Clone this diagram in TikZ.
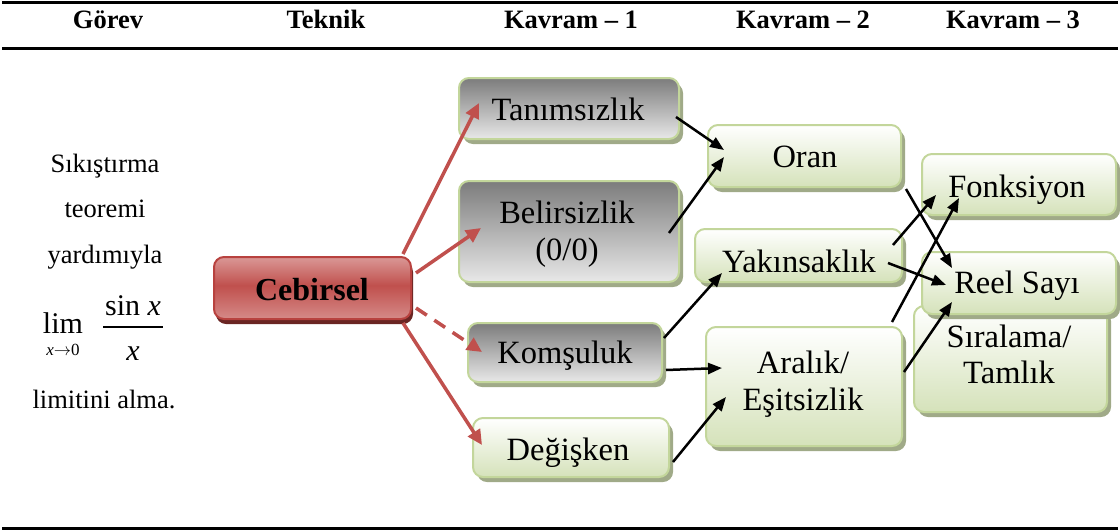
\documentclass[tikz,border=0pt]{standalone}
\usepackage{fontspec}
\setmainfont{Liberation Serif}
\usetikzlibrary{arrows.meta,calc,shadows}
\definecolor{bord}{HTML}{C3D69B}
\definecolor{shad}{HTML}{A0AA88}
\definecolor{redc}{HTML}{C0504D}
\definecolor{redb}{HTML}{B8423F}
\definecolor{redlt}{HTML}{DA9896}
\definecolor{redlb}{HTML}{D58A88}
\definecolor{redshad}{HTML}{6A2523}
\definecolor{grayT}{HTML}{7C7C7C}
\definecolor{grayB}{HTML}{E8E8E8}
\definecolor{greenB}{HTML}{D5E2BA}
\pgfdeclareverticalshading{redgloss}{100bp}{color(0bp)=(redlb); color(25bp)=(redlb); color(52bp)=(redc); color(75bp)=(redlt); color(100bp)=(redlt)}
\tikzset{
  box/.style={draw=bord, line width=2pt, rounded corners=10pt, inner sep=0pt,
    drop shadow={shadow xshift=4pt, shadow yshift=-5pt, fill=shad, opacity=1}},
  graybox/.style={box, top color=grayT, bottom color=grayB},
  greenbox/.style={box, top color=white, bottom color=greenB},
  redbox/.style={draw=redb, line width=2pt, rounded corners=10pt, inner sep=0pt, shading=redgloss,
    drop shadow={shadow xshift=2pt, shadow yshift=-5pt, fill=redshad, opacity=1}},
  lbl/.style={anchor=base, inner sep=0pt, font=\fontsize{32.5}{38}\selectfont},
  hdr/.style={anchor=base, inner sep=0pt, font=\fontsize{26.5}{30}\selectfont\bfseries},
  lft/.style={anchor=base, inner sep=0pt, font=\fontsize{26.5}{30}\selectfont},
  mth/.style={anchor=base, inner sep=0pt, font=\fontsize{30}{34}\selectfont},
  redarr/.style={draw=redc, line width=3.5pt, -{Triangle[length=15pt,width=14pt]}},
  blkarr/.style={draw=black, line width=2.5pt, -{Triangle[length=14pt,width=11pt]}},
  rule/.style={line width=3pt}
}
\begin{document}
\begin{tikzpicture}[x=1pt,y=-1pt]
\useasboundingbox (0,0) rectangle (1120,531);
% rules
\draw[rule] (2,2.5) -- (1118,2.5);
\draw[rule] (2,48.5) -- (1118,48.5);
\draw[line width=2.5pt] (2,528.5) -- (1118,528.5);
% header
\node[hdr] (h1) at (108,28) {Görev};
\node[hdr] (h2) at (326,28) {Teknik};
\node[hdr] (h3) at (571,28) {Kavram – 1};
\node[hdr] (h4) at (803,28) {Kavram – 2};
\node[hdr] (h5) at (1013,28) {Kavram – 3};
% left text
\node[lft] (l1) at (105,172) {Sıkıştırma};
\node[lft] (l2) at (105,217) {teoremi};
\node[lft] (l3) at (105,263) {yardımıyla};
\node[mth] (lim) at (63,333) {lim};
\node[anchor=base, inner sep=0pt, font=\fontsize{17}{19}\selectfont] (lsub) at (63,355) {\textit{x}$\rightarrow$0};
\node[mth] (num) at (133,315) {sin \textit{x}};
\node[mth] (den) at (133,360) {\textit{x}};
\draw[line width=1.4pt] ($(num.base)+(-30,12)$) -- ($(num.base)+(30,12)$);
\node[lft] (l5) at (104,408) {limitini alma.};
% Cebirsel
\node[redbox, minimum width=197pt, minimum height=62pt] (ceb) at (312.5,288) {};
\node[anchor=base, inner sep=0pt, font=\fontsize{32}{38}\selectfont\bfseries] (cebt) at (312,300) {Cebirsel};
% Kavram 1
\node[graybox, minimum width=220pt, minimum height=61pt] (tan) at (569,108.5) {};
\node[lbl] (tant) at (568,120) {Tanımsızlık};
\node[graybox, minimum width=220pt, minimum height=101pt] (bel) at (569,231.5) {};
\node[lbl] (belt1) at (567,223) {Belirsizlik};
\node[lbl] (belt2) at (567,260) {(0/0)};
\node[graybox, minimum width=194pt, minimum height=59pt] (kom) at (565,352.5) {};
\node[lbl] (komt) at (565,363) {Komşuluk};
\node[greenbox, minimum width=196pt, minimum height=59pt] (deg) at (571,447.5) {};
\node[lbl] (degt) at (568,460) {Değişken};
% Kavram 2
\node[greenbox, minimum width=193pt, minimum height=62pt] (oran) at (804.5,156) {};
\node[lbl] (orant) at (805,167) {Oran};
\node[greenbox, minimum width=207pt, minimum height=53pt] (yak) at (798.5,255.5) {};
\node[lbl] (yakt) at (799,272) {Yakınsaklık};
\node[greenbox, minimum width=196pt, minimum height=119pt] (ara) at (804,386.5) {};
\node[lbl] (arat1) at (803,373) {Aralık/};
\node[lbl] (arat2) at (803,410) {Eşitsizlik};
% Kavram 3
\node[greenbox, minimum width=194pt, minimum height=61pt] (fonk) at (1019,184.5) {};
\node[lbl] (fonkt) at (1017,197) {Fonksiyon};
\node[greenbox, minimum width=193pt, minimum height=106pt] (sir) at (1010.5,359) {};
\node[lbl] (sirt1) at (1009,347) {Sıralama/};
\node[lbl] (sirt2) at (1009,383) {Tamlık};
\node[greenbox, minimum width=194pt, minimum height=62pt] (reel) at (1019,283) {};
\node[lbl] (reelt) at (1017,293) {Reel Sayı};
% red arrows
\draw[redarr] ($(ceb.north east)+(-9,-2)$) -- ($(tan.west)+(21,-5.5)$);
\draw[redarr] ($(ceb.east)+(4,-15)$) -- ($(bel.west)+(23,-3.5)$);
\draw[redarr, dash pattern=on 13pt off 9pt] ($(ceb.east)+(4,20)$) -- ($(kom.west)+(15,-0.5)$);
\draw[redarr] ($(ceb.south east)+(-9,3)$) -- ($(deg.west)+(10,-2.5)$);
% black arrows
\draw[blkarr] ($(tan.east)+(-4,8.5)$) -- ($(oran.west)+(17,-6)$);
\draw[blkarr] ($(bel.east)+(-11,1.5)$) -- ($(oran.west)+(17,1)$);
\draw[blkarr] ($(kom.east)+(1,-14.5)$) -- ($(yak.west)+(28,17.5)$);
\draw[blkarr] ($(kom.east)+(3,17.5)$) -- ($(ara.west)+(17,-18.5)$);
\draw[blkarr] ($(deg.east)+(3,14.5)$) -- ($(ara.west)+(21,10.5)$);
\draw[blkarr] ($(oran.south east)+(4,1)$) -- ($(reel.west)+(31,-15)$);
\draw[blkarr] ($(yak.east)+(-10,-10.5)$) -- ($(fonk.west)+(15,10.5)$);
\draw[blkarr] ($(yak.east)+(-15,7.5)$) -- ($(reel.west)+(25,2)$);
\draw[blkarr] ($(ara.north east)+(-11,-4)$) -- ($(fonk.west)+(38,13.5)$);
\draw[blkarr] ($(ara.east)+(1,-14.5)$) -- ($(reel.west)+(31,19)$);
\end{tikzpicture}
\end{document}
